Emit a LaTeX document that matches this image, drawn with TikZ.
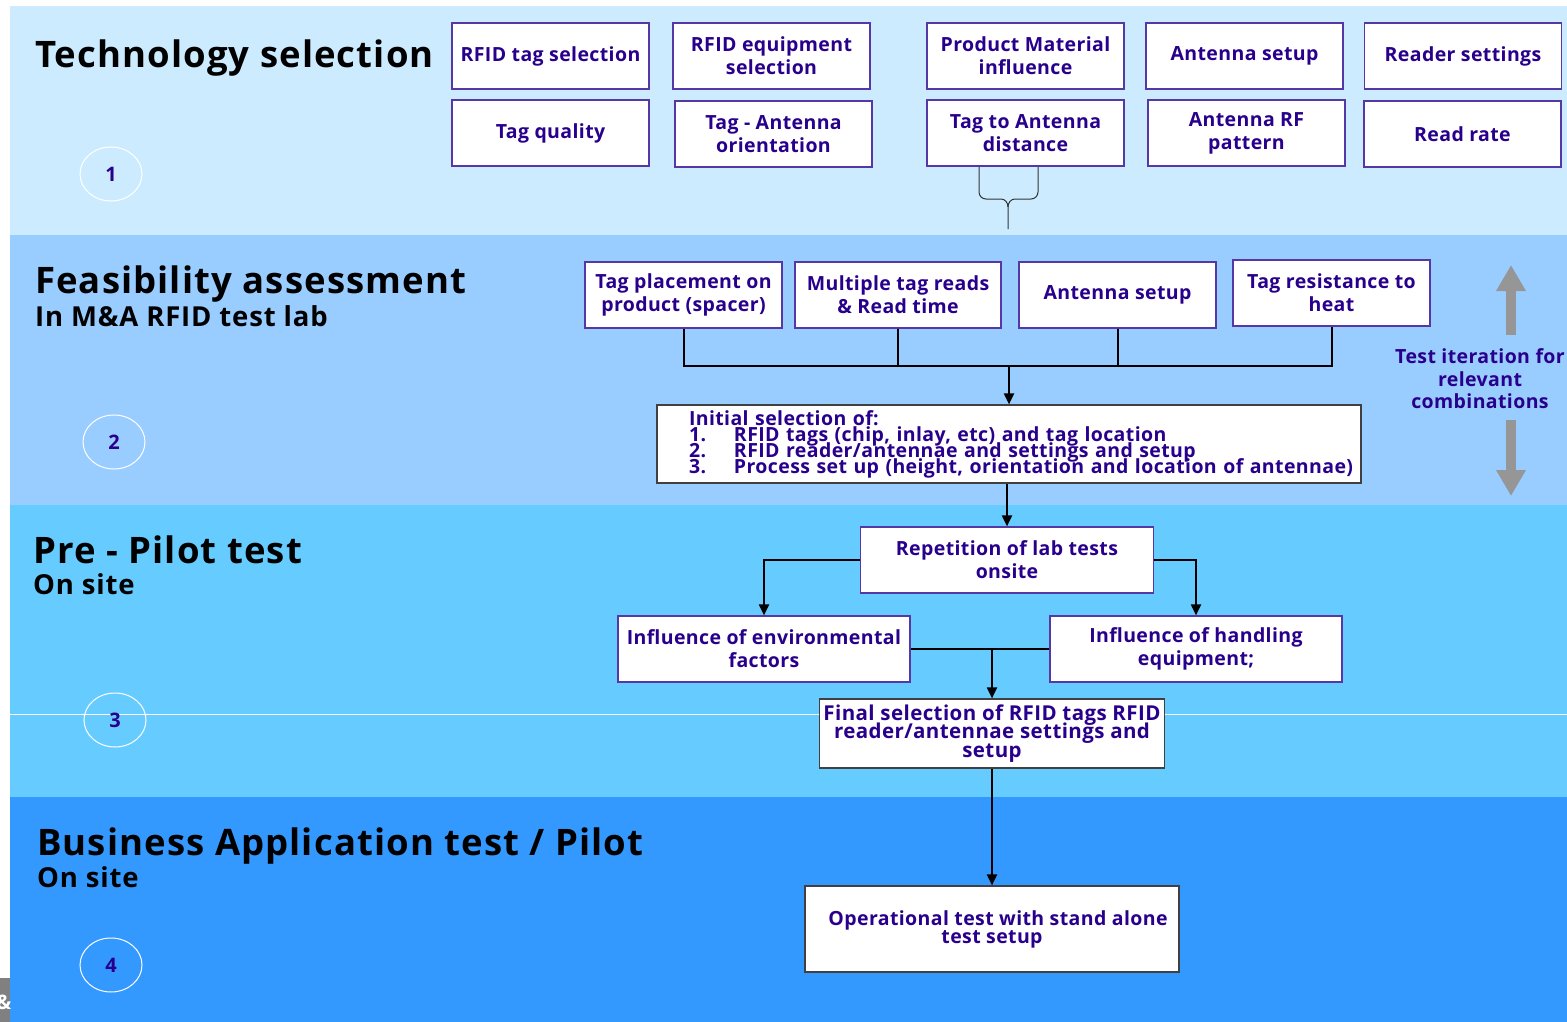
\documentclass[tikz,border=0pt]{standalone}
\usepackage{fontspec}
\setmainfont{Open Sans}
\newfontfamily\ttlfont{Open Sans}[LetterSpace=3.0]
\newfontfamily\boxfnt{Open Sans}[LetterSpace=2.0]
\usetikzlibrary{arrows.meta,shapes.geometric}
\definecolor{bandA}{RGB}{204,235,255}
\definecolor{bandB}{RGB}{153,204,255}
\definecolor{bandC}{RGB}{102,204,255}
\definecolor{bandD}{RGB}{51,153,255}
\definecolor{ink}{RGB}{40,0,140}
\definecolor{boxline}{RGB}{85,55,165}
\definecolor{iter}{RGB}{150,150,150}
\newcommand\initem[2]{\hspace*{32pt}\makebox[45pt][l]{#1}#2}
\newcommand\squeeze{\lineskiplimit=-30pt\relax}

\begin{document}
\begin{tikzpicture}[x=1pt,y=-1pt,>={Triangle[length=11pt,width=10pt]},
  box/.style={draw=boxline,line width=1.2pt,fill=white,text=ink,align=center,inner sep=2pt,
    font=\boxfnt\fontsize{19.5}{23}\selectfont\bfseries,minimum width=197pt,minimum height=66pt},
  tight/.style={font=\boxfnt\fontsize{20.5}{18.5}\selectfont\bfseries\squeeze},
  link/.style={line width=2pt,black},
  num/.style={ellipse,draw=white,line width=1pt,text=ink,minimum width=62pt,minimum height=54pt,
    font=\fontsize{20}{22}\selectfont\bfseries},
  ttl/.style={anchor=base west,inner sep=0pt,font=\ttlfont\fontsize{36.5}{40}\selectfont\bfseries},
  sub/.style={anchor=base west,inner sep=0pt,font=\ttlfont\fontsize{27.5}{30}\selectfont\bfseries}]
\useasboundingbox (0,0) rectangle (1567,1022);
\fill[bandA] (10,6) rectangle (1567,235);
\fill[bandB] (10,235) rectangle (1567,505);
\fill[bandC] (10,505) rectangle (1567,797);
\fill[bandD] (10,797) rectangle (1567,1022);
\draw[white,line width=1pt] (10,714) -- (1567,714);
\begin{scope}
  \clip (0,978) rectangle (10,1022);
  \fill[gray] (0,978) rectangle (10,1022);
  \node[text=white,font=\fontsize{20}{22}\selectfont\bfseries] (amp) at (4,1002) {\&};
\end{scope}

\node[ttl] (tech) at (35,68) {Technology selection};
\node[ttl] (feas) at (35,293) {Feasibility assessment};
\node[sub] (lab) at (35,326) {In M\&A RFID test lab};
\node[ttl] (pre) at (33,563) {Pre - Pilot test};
\node[sub] (site1) at (33,594) {On site};
\node[ttl] (bus) at (37,855) {Business Application test / Pilot};
\node[sub] (site2) at (37,887) {On site};

\node[num] (n1) at (111,174) {1};
\node[num] (n2) at (114,442) {2};
\node[num] (n3) at (115,720) {3};
\node[num] (n4) at (111,965) {4};

\node[box] (t1) at (550.5,56) {RFID tag selection};
\node[box] (t2) at (771.5,56) {RFID equipment\\selection};
\node[box] (t3) at (1025.5,56) {Product Material\\influence};
\node[box] (t4) at (1244.5,56) {Antenna setup};
\node[box] (t5) at (1463,56) {Reader settings};
\node[box] (t6) at (550.5,133) {Tag quality};
\node[box] (t7) at (773.5,134) {Tag - Antenna\\orientation};
\node[box] (t8) at (1025.5,133) {Tag to Antenna\\distance};
\node[box] (t9) at (1246.5,133) {Antenna RF\\pattern};
\node[box] (t10) at (1462.5,134) {Read rate};

\draw[line width=1pt,black!80] (979,167) -- (979,192) to[out=-90,in=180] (986,199) -- (1001,199)
  to[out=0,in=90] (1008,207) -- (1008,229);
\draw[line width=1pt,black!80] (1038,167) -- (1038,192) to[out=-90,in=0] (1031,199) -- (1015,199)
  to[out=180,in=90] (1008,207);

\node[box] (f1) at (683.5,295) {Tag placement on\\product (spacer)};
\node[box,minimum width=206pt] (f2) at (898,295) {Multiple tag reads\\\& Read time};
\node[box] (f3) at (1117.5,295) {Antenna setup};
\node[box] (f4) at (1331.5,293) {Tag resistance to\\heat};
\node[box,draw=black!75,minimum width=704pt,minimum height=78pt,text width=704pt,inner xsep=0pt,
  align=left,font=\boxfnt\fontsize{19.5}{16}\selectfont\bfseries\squeeze] (init) at (1009,444)
  {\hspace*{32pt}Initial selection of:\\
   \initem{1.}{RFID tags (chip, inlay, etc) and tag location}\\
   \initem{2.}{RFID reader/antennae and settings and setup}\\
   \initem{3.}{Process set up (height, orientation and location of antennae)}};

\coordinate (jn) at (1009,366);
\draw[link] (f1.south) |- (jn) -| (f4.south);
\draw[link] (f2.south) -- (f2.south |- jn);
\draw[link] (f3.south) -- (f3.south |- jn);
\draw[link,->] (jn) -- (init.north);

\draw[iter,line width=10pt,-{Triangle[length=26pt,width=28pt]}] (1511,335) -- (1511,265);
\draw[iter,line width=10pt,-{Triangle[length=26pt,width=28pt]}] (1511,420) -- (1511,496);
\node[text=ink,align=center,font=\boxfnt\fontsize{19.5}{22.5}\selectfont\bfseries] (iter) at (1480,379)
  {Test iteration for\\relevant\\combinations};

\node[box,minimum width=293pt] (rep) at (1007,560) {Repetition of lab tests\\onsite};
\node[box,minimum width=292pt] (env) at (764,649) {Influence of environmental\\factors};
\node[box,minimum width=292pt] (hand) at (1196,649) {Influence of handling\\equipment;};
\node[box,tight,draw=black!75,minimum width=345pt,minimum height=69pt] (final) at (992,733.5)
  {Final selection of RFID tags RFID\\reader/antennae settings and\\setup};
\node[box,draw=black!75,minimum width=374pt,minimum height=86pt,
  font=\boxfnt\fontsize{19.5}{18}\selectfont\bfseries\squeeze] (op) at (992,929)
  {\hspace*{12pt}Operational test with stand alone\\test setup};

\draw[link,->] (rep.north |- init.south) -- (rep.north);
\draw[link,->] (rep.west) -| (env.north);
\draw[link,->] (rep.east) -| (hand.north);
\coordinate (mid) at (992,649);
\draw[link] (env.east) -- (hand.west);
\draw[link,->] (mid) -- (final.north);
\draw[link,->] (final.south) -- (op.north);
\end{tikzpicture}
\end{document}
